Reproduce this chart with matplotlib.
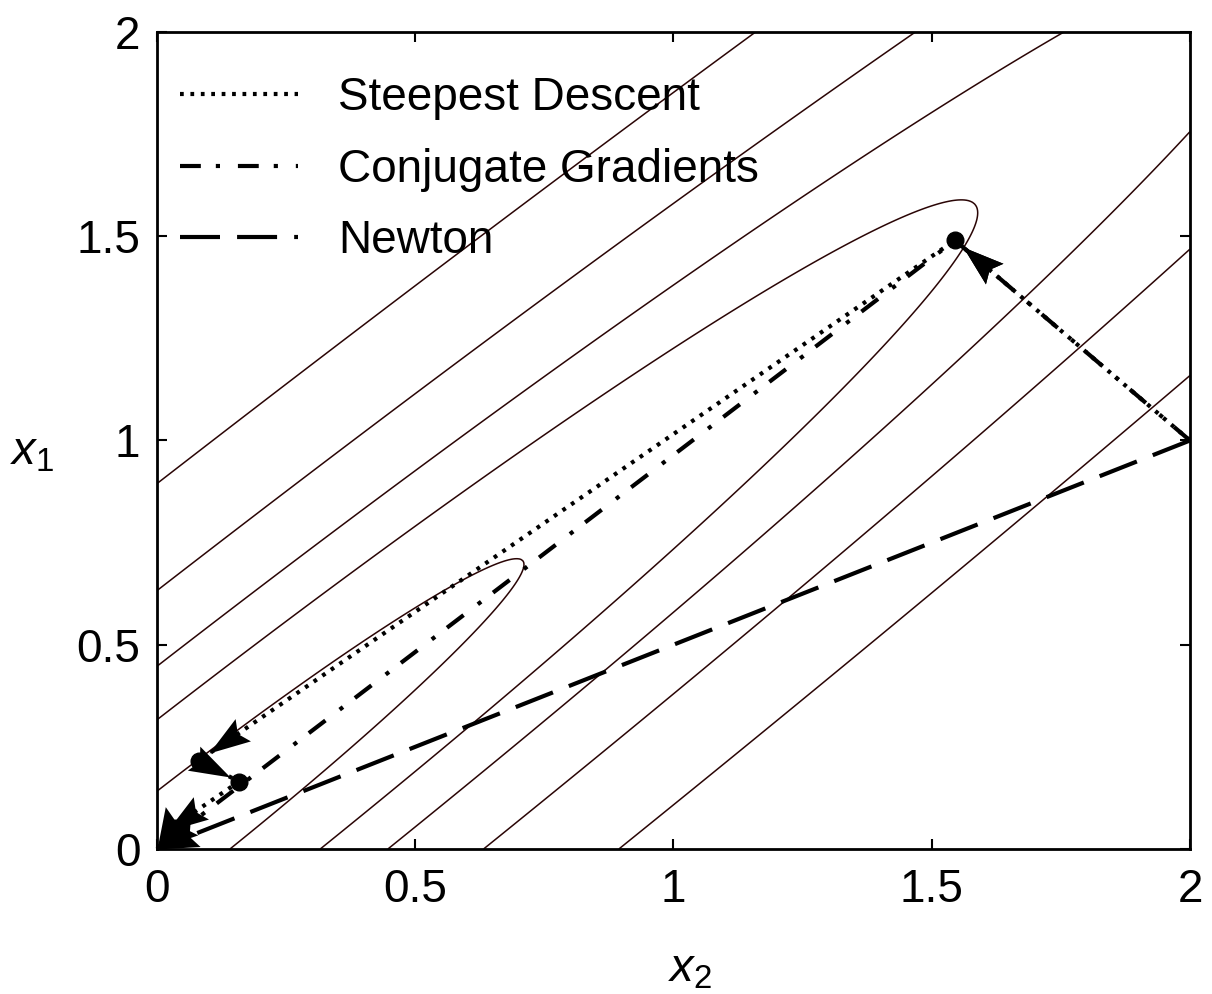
import numpy as np
import matplotlib
matplotlib.use("Agg")
import matplotlib.pyplot as plt
from matplotlib.markers import MarkerStyle
from matplotlib.path import Path
from matplotlib.transforms import Affine2D

# quadratic f = A11*x1^2 + A22*x2^2 + 2*A12*x1*x2, contour levels
A11, A22, A12 = 1.0, 1.0, -0.98
LEVELS = [0.02, 0.1, 0.2, 0.4, 0.8]

# iterates of each method, (x2, x1)
SD_X2 = [2.0, 1.545, 0.081, 0.159, 0.020, 0.0]
SD_X1 = [1.0, 1.490, 0.216, 0.165, 0.045, 0.0]
CG_X2 = [2.0, 1.545, 0.0]
CG_X1 = [1.0, 1.490, 0.0]
NEWTON_X2 = [2.0, 0.0]
NEWTON_X1 = [1.0, 0.0]
DOT_X2 = [1.545, 0.081, 0.159]
DOT_X1 = [1.490, 0.216, 0.165]

LABELS = ["Steepest Descent", "Conjugate Gradients", "Newton"]
TICKS = [0, 0.5, 1, 1.5, 2]
TICK_LABELS = ["0", "0.5", "1", "1.5", "2"]

plt.rcParams["font.family"] = ["Liberation Sans", "DejaVu Sans"]
plt.rcParams["mathtext.fontset"] = "custom"
plt.rcParams["mathtext.rm"] = "Liberation Sans"
plt.rcParams["mathtext.it"] = "Liberation Sans:italic"

DPI = 100
fig = plt.figure(figsize=(12.12, 9.94), dpi=DPI)
ax = fig.add_axes([0.1295, 0.1459, 0.8523, 0.8219])
ax.set_xlim(0, 2)
ax.set_ylim(0, 2)

g = np.linspace(0, 2, 500)
X2, X1 = np.meshgrid(g, g)
F = A11 * X1**2 + A22 * X2**2 + 2 * A12 * X1 * X2
ax.contour(X2, X1, F, levels=LEVELS, colors="#2a0505", linewidths=1.1)

LW = 3.0
SD_STYLE = (0, (0.9, 1.6))
CG_STYLE = (0, (5.0, 3.6, 1.0, 4.3))
NEWTON_STYLE = (0, (9.6, 4.1))

ax.plot(SD_X2, SD_X1, color="black", lw=LW, linestyle=SD_STYLE,
        label=LABELS[0], zorder=3)
ax.plot(CG_X2, CG_X1, color="black", lw=LW, linestyle=CG_STYLE,
        label=LABELS[1], clip_on=False, zorder=3)
ax.plot(NEWTON_X2, NEWTON_X1, color="black", lw=LW, linestyle=NEWTON_STYLE,
        label=LABELS[2], clip_on=False, zorder=3)

ax.plot(DOT_X2, DOT_X1, "o", color="black", ms=12, zorder=5)

# barbed arrowhead, tip at origin, pointing +x
HEAD = Path([(0, 0), (-1, 0.33), (-0.84, 0), (-1, -0.33), (0, 0)],
            [Path.MOVETO, Path.LINETO, Path.LINETO, Path.LINETO, Path.CLOSEPOLY])
HEAD_LEN_PX = 41


def draw_heads(xs, ys, gaps):
    to_disp = ax.transData
    for i in range(len(xs) - 1):
        p0 = to_disp.transform((xs[i], ys[i]))
        p1 = to_disp.transform((xs[i + 1], ys[i + 1]))
        d = p1 - p0
        u = d / np.hypot(*d)
        tip = p1 - u * gaps[i]
        tx, ty = to_disp.inverted().transform(tip)
        ang = np.degrees(np.arctan2(u[1], u[0]))
        m = MarkerStyle(HEAD, transform=Affine2D().rotate_deg(ang))
        ax.plot([tx], [ty], marker=m, color="black", ms=2 * HEAD_LEN_PX * 72 / DPI,
                mew=0, linestyle="none", zorder=4)


draw_heads(SD_X2, SD_X1, [11, 13, 10, 0, 0])
draw_heads(CG_X2, CG_X1, [11, 0])
draw_heads(NEWTON_X2, NEWTON_X1, [0])

ax.set_xticks(TICKS, TICK_LABELS)
ax.set_yticks(TICKS, TICK_LABELS)
ax.tick_params(direction="in", length=7, width=1.5, labelsize=33,
               top=True, right=True)
ax.tick_params(axis="x", pad=14)
ax.tick_params(axis="y", pad=12)
for s in ax.spines.values():
    s.set_linewidth(2.0)
    s.set_zorder(6)

ax.set_xlabel(r"$x_2$", fontsize=34)
ax.xaxis.set_label_coords(0.516, -0.148)
ax.xaxis.label.set_va("center")
ax.set_ylabel(r"$x_1$", fontsize=34, rotation=0)
ax.yaxis.set_label_coords(-0.121, 0.485)
ax.yaxis.label.set_va("center")
ax.yaxis.label.set_ha("center")

ax.legend(loc="upper left", bbox_to_anchor=(0.022, 0.946), frameon=False,
          fontsize=33, handlelength=2.58, handletextpad=0.87,
          labelspacing=0.60, borderpad=0, borderaxespad=0)

fig.savefig("out.png", dpi=DPI)
